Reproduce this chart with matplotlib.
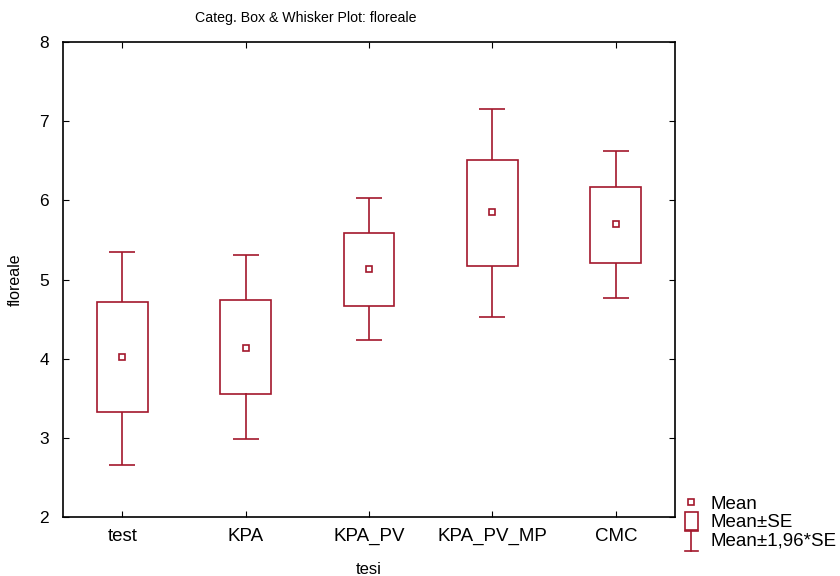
import matplotlib
matplotlib.use("Agg")
import matplotlib.pyplot as plt
from matplotlib.lines import Line2D
from matplotlib.patches import Patch, Rectangle
from matplotlib.legend_handler import HandlerBase
import numpy as np

plt.rcParams["font.family"] = ["Liberation Sans", "DejaVu Sans"]

# values
groups = ["test", "KPA", "KPA_PV", "KPA_PV_MP", "CMC"]
mean = [4.02, 4.14, 5.13, 5.85, 5.70]
se_low = [3.33, 3.56, 4.67, 5.17, 5.21]
se_high = [4.71, 4.74, 5.59, 6.51, 6.17]
ci_low = [2.66, 2.98, 4.24, 4.53, 4.77]
ci_high = [5.35, 5.31, 6.03, 7.15, 6.62]

EDGE = "#a3182c"


class HandlerBox(HandlerBase):
    def create_artists(self, legend, orig_handle, xdescent, ydescent,
                       width, height, fontsize, trans):
        w = width * 0.8
        r = Rectangle((-xdescent + (width - w) / 2, -ydescent - 0.25 * height),
                      w, 1.4 * height, facecolor="white", edgecolor=EDGE,
                      lw=1.2, transform=trans)
        return [r]


class HandlerWhisker(HandlerBase):
    def create_artists(self, legend, orig_handle, xdescent, ydescent,
                       width, height, fontsize, trans):
        cx = width / 2 - xdescent
        h0, h1 = -ydescent - 0.45 * height, -ydescent + 1.1 * height
        cap = width * 0.4
        arts = [
            Line2D([cx, cx], [h0, h1], color=EDGE, lw=1.2),
            Line2D([cx - cap, cx + cap], [h0, h0], color=EDGE, lw=1.2),
            Line2D([cx - cap, cx + cap], [h1, h1], color=EDGE, lw=1.2),
        ]
        for a in arts:
            a.set_transform(trans)
        return arts


fig = plt.figure(figsize=(8.4, 5.76), dpi=100)
ax = fig.add_axes([63 / 840, 59 / 576, 612 / 840, 475 / 576])

x = np.arange(len(groups))
box_w = 0.41
cap_w = 0.21

ax.bar(x, np.array(se_high) - np.array(se_low), bottom=se_low, width=box_w,
       fill=False, edgecolor=EDGE, linewidth=1.2, zorder=2)
ax.vlines(x, se_high, ci_high, color=EDGE, lw=1.2)
ax.vlines(x, ci_low, se_low, color=EDGE, lw=1.2)
ax.hlines(ci_high, x - cap_w / 2, x + cap_w / 2, color=EDGE, lw=1.2)
ax.hlines(ci_low, x - cap_w / 2, x + cap_w / 2, color=EDGE, lw=1.2)
ax.plot(x, mean, "s", ms=5, mfc="white", mec=EDGE, mew=1.2, zorder=3)

ax.set_xlim(-0.48, 4.48)
ax.set_ylim(2, 8)
ax.set_xticks(x)
ax.set_xticklabels(groups)
ax.set_yticks(range(2, 9))
ax.tick_params(direction="in", length=4, top=True, right=True)
ax.tick_params(axis="y", labelsize=12.5, pad=10)
ax.tick_params(axis="x", labelsize=13.5, pad=8)
for s in ax.spines.values():
    s.set_linewidth(1.2)

ax.set_xlabel("tesi", fontsize=12, labelpad=12)
ax.set_ylabel("floreale", fontsize=11.5, labelpad=12)
fig.text(306 / 840, 1 - 18 / 576, "Categ. Box & Whisker Plot: floreale",
         ha="center", va="center", fontsize=10.2)

handles = [
    Line2D([], [], marker="s", ls="none", ms=5, mfc="white", mec=EDGE, mew=1.2),
    Patch(facecolor="white", edgecolor=EDGE, linewidth=1.2),
    Line2D([], []),
]
labels = ["Mean", "Mean\u00b1SE", "Mean\u00b11,96*SE"]
fig.legend(handles, labels, loc="lower left",
           bbox_to_anchor=(683 / 840, 27 / 576), frameon=False,
           fontsize=13.5, handlelength=0.9, handletextpad=0.55,
           labelspacing=0.05, borderpad=0.0, borderaxespad=0.0,
           handler_map={handles[1]: HandlerBox(),
                        handles[2]: HandlerWhisker()})

plt.savefig("out.png", dpi=100)
